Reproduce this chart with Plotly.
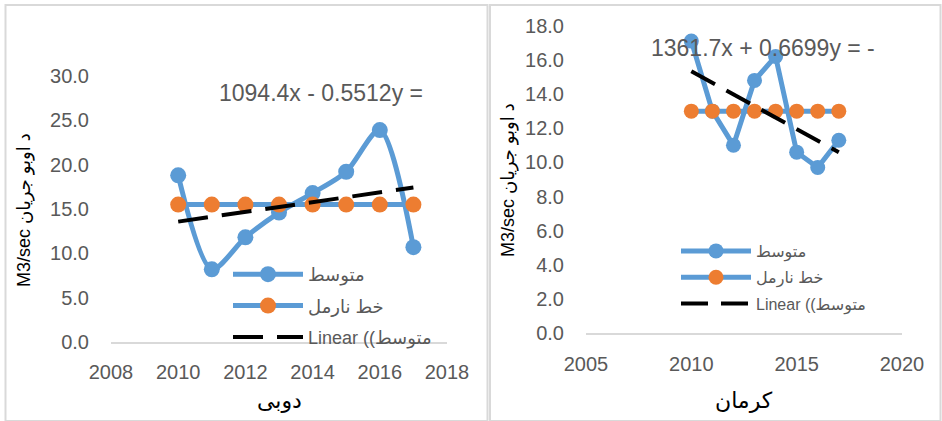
import numpy as np
import plotly.graph_objects as go

# ---------------- data ----------------
years = [2010, 2011, 2012, 2013, 2014, 2015, 2016, 2017]

dubai_mean = [18.8, 8.2, 11.8, 14.6, 16.8, 19.2, 23.9, 10.7]
dubai_normal = [15.5, 15.5, 15.5, 15.5, 15.5, 15.5, 15.5, 15.5]

kerman_mean = [17.1, 13.0, 11.0, 14.8, 16.2, 10.6, 9.7, 11.3]
kerman_normal = [13.0, 13.0, 13.0, 13.0, 13.0, 13.0, 13.0, 13.0]

name_mean = "متوسط"
name_normal = "خط نارمل"
name_linear = "Linear ((متوسط"
eq_dubai = "1094.4x - 0.5512y ="
eq_kerman = "1361.7x + 0.6699y = -"
ytitle = "M3/sec د اوبو جریان"
xtitle_dubai = "دوبی"
xtitle_kerman = "کرمان"

BLUE = "#5B9BD5"
ORANGE = "#ED7D31"
GREY = "#595959"
FONT = "Liberation Sans, DejaVu Sans, sans-serif"

W, H = 942, 421


def px_x(p):
    return p / W


def px_y(p):
    return 1 - p / H


def trend(xs, ys):
    k, b = np.polyfit(xs, ys, 1)
    return [k * x + b for x in xs]


fig = go.Figure()

# ---------- left chart (Dubai) ----------
fig.add_trace(go.Scatter(x=years, y=dubai_mean, name=name_mean, mode="lines+markers",
                         line=dict(color=BLUE, width=5, shape="spline", smoothing=0.8),
                         marker=dict(color=BLUE, size=16), xaxis="x", yaxis="y",
                         legend="legend", legendgroup="a1"))
fig.add_trace(go.Scatter(x=years, y=dubai_normal, name=name_normal, mode="lines+markers",
                         line=dict(color=BLUE, width=5),
                         marker=dict(color=ORANGE, size=16), xaxis="x", yaxis="y",
                         legend="legend", legendgroup="a2"))
fig.add_trace(go.Scatter(x=years, y=trend(years, dubai_mean), name=name_linear, mode="lines",
                         line=dict(color="black", width=4, dash="30px,14px"),
                         xaxis="x", yaxis="y", legend="legend", legendgroup="a3"))

# ---------- right chart (Kerman) ----------
fig.add_trace(go.Scatter(x=years, y=kerman_mean, name=name_mean, mode="lines+markers",
                         line=dict(color=BLUE, width=5),
                         marker=dict(color=BLUE, size=15), xaxis="x2", yaxis="y2",
                         legend="legend2", legendgroup="b1"))
fig.add_trace(go.Scatter(x=years, y=kerman_normal, name=name_normal, mode="lines+markers",
                         line=dict(color=BLUE, width=5),
                         marker=dict(color=ORANGE, size=15), xaxis="x2", yaxis="y2",
                         legend="legend2", legendgroup="b2"))
fig.add_trace(go.Scatter(x=years, y=trend(years, kerman_mean), name=name_linear, mode="lines",
                         line=dict(color="black", width=4, dash="27px,13px"),
                         xaxis="x2", yaxis="y2", legend="legend2", legendgroup="b3"))

axis_common = dict(showgrid=False, zeroline=False, ticks="", automargin=False,
                   tickfont=dict(family=FONT, size=20, color=GREY))

fig.update_layout(
    template="none",
    width=W, height=H, autosize=False,
    margin=dict(l=0, r=0, t=0, b=0, pad=0, autoexpand=False),
    paper_bgcolor="white", plot_bgcolor="rgba(0,0,0,0)",
    font=dict(family=FONT, color=GREY),
    xaxis=dict(domain=[px_x(111), px_x(447)], range=[2008, 2018], dtick=2,
               showline=True, linecolor="#d9d9d9", linewidth=1.5,
               ticklabelstandoff=11, anchor="y", **axis_common),
    yaxis=dict(domain=[px_y(342), px_y(76)], range=[0, 30], dtick=5, tickformat=".1f",
               showline=False, ticklabelstandoff=21, anchor="x", **axis_common),
    xaxis2=dict(domain=[px_x(586), px_x(902)], range=[2005, 2020], dtick=5,
                showline=True, linecolor="#d9d9d9", linewidth=1.5,
                ticklabelstandoff=12, anchor="y2", **axis_common),
    yaxis2=dict(domain=[px_y(333.3), px_y(25.7)], range=[0, 18], dtick=2, tickformat=".1f",
                showline=False, ticklabelstandoff=21, anchor="x2", **axis_common),
    legend=dict(x=px_x(228), y=px_y(256), xanchor="left", yanchor="top",
                bgcolor="rgba(0,0,0,0)", font=dict(family=FONT, size=18, color=GREY),
                itemwidth=70, tracegroupgap=5, traceorder="grouped"),
    legend2=dict(x=px_x(676), y=px_y(234), xanchor="left", yanchor="top",
                 bgcolor="rgba(0,0,0,0)", font=dict(family=FONT, size=16, color=GREY),
                 itemwidth=70, tracegroupgap=2.5, traceorder="grouped"),
    showlegend=True,
)

# chart borders
fig.add_shape(type="rect", xref="paper", yref="paper",
              x0=px_x(5.5), x1=px_x(487.5), y0=px_y(421), y1=px_y(5),
              line=dict(color="#d9d9d9", width=2), layer="below")
fig.add_shape(type="rect", xref="paper", yref="paper",
              x0=px_x(490), x1=px_x(940.5), y0=px_y(421), y1=px_y(5),
              line=dict(color="#d9d9d9", width=2), layer="below")

# trendline equations
fig.add_annotation(x=2014.25, y=28.1, xref="x", yref="y", text=eq_dubai, showarrow=False,
                   xanchor="center", yanchor="middle",
                   font=dict(family=FONT, size=23, color=GREY))
fig.add_annotation(x=2013.4, y=16.67, xref="x2", yref="y2", text=eq_kerman, showarrow=False,
                   xanchor="center", yanchor="middle",
                   font=dict(family=FONT, size=23, color=GREY))

# axis titles
title_kw = dict(xref="paper", yref="paper", showarrow=False, xanchor="center", yanchor="middle")
fig.add_annotation(x=px_x(24), y=px_y(210), text=ytitle, textangle=-90,
                   font=dict(family=FONT, size=18, color="black"), **title_kw)
fig.add_annotation(x=px_x(508), y=px_y(180), text=ytitle, textangle=-90,
                   font=dict(family=FONT, size=18, color="black"), **title_kw)
fig.add_annotation(x=px_x(279), y=px_y(400), text=xtitle_dubai,
                   font=dict(family=FONT, size=22, color="black"), **title_kw)
fig.add_annotation(x=px_x(744), y=px_y(400), text=xtitle_kerman,
                   font=dict(family=FONT, size=22, color="black"), **title_kw)

fig.write_html("out.html", config={"displayModeBar": False},
               post_script="document.body.style.margin='0';"
                           "document.body.style.overflow='hidden';")
